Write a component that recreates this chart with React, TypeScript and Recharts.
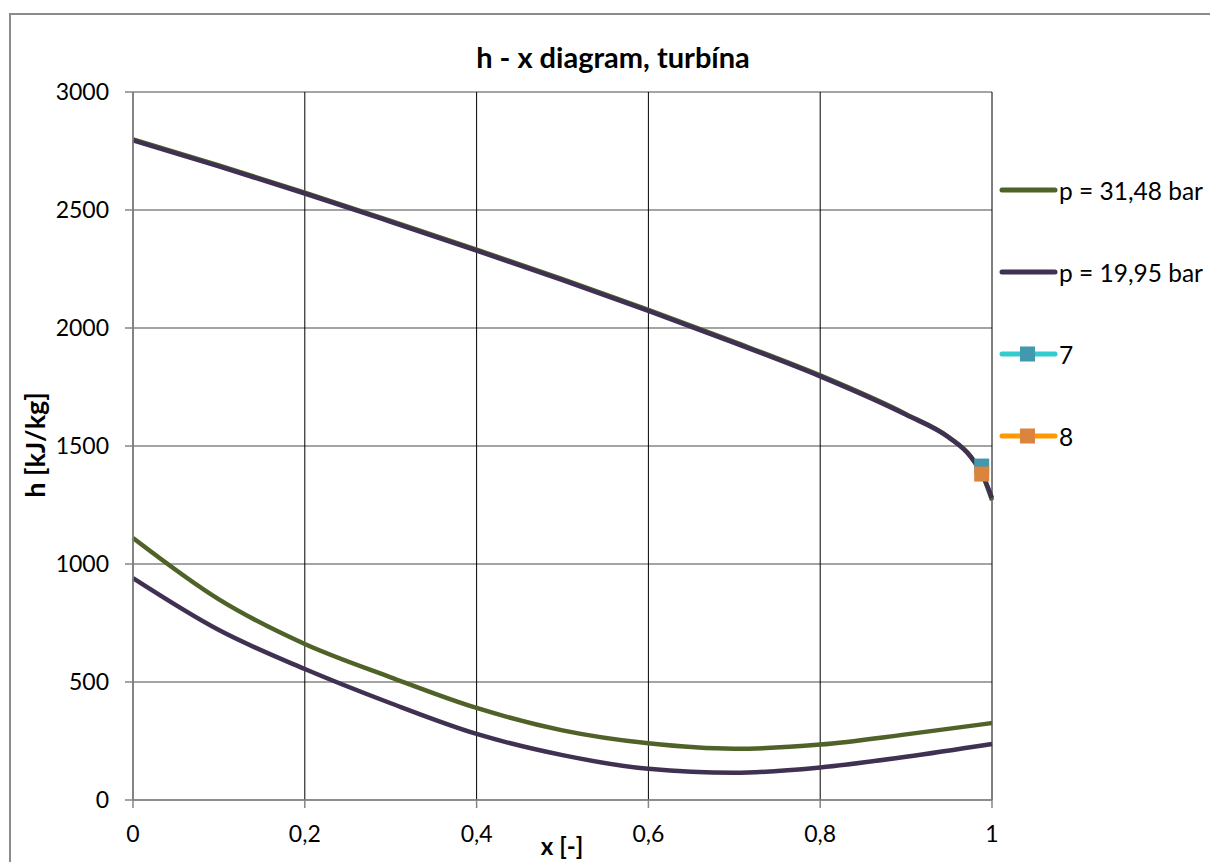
import React from "react";
import {
  LineChart,
  Line,
  XAxis,
  YAxis,
  CartesianGrid,
  Legend,
} from "recharts";

// saturation curves, x = dryness fraction, h in kJ/kg
const upperX = [0, 0.1, 0.2, 0.3, 0.4, 0.5, 0.6, 0.7, 0.8, 0.9, 0.95, 0.975, 0.99, 1];
const upperH31 = [2799, 2689, 2574, 2454, 2332, 2207, 2077, 1941, 1799, 1635, 1537, 1457, 1368, 1270];
const upperH19 = [2795, 2685, 2570, 2450, 2328, 2203, 2073, 1937, 1795, 1632, 1535, 1455, 1370, 1280];

const lowerX = [0, 0.1, 0.2, 0.3, 0.4, 0.5, 0.6, 0.7, 0.8, 0.9, 1];
const lowerH31 = [1110, 850, 661, 520, 390, 295, 240, 217, 235, 278, 326];
const lowerH19 = [940, 720, 555, 410, 280, 190, 132, 115, 138, 183, 237];

const point7X = [0.988];
const point7H = [1415];
const point8X = [0.988];
const point8H = [1381];

const xTicks = [0, 0.2, 0.4, 0.6, 0.8, 1];
const yTicks = [0, 500, 1000, 1500, 2000, 2500, 3000];

const seriesNames = ["p = 31,48 bar", "p = 19,95 bar", "7", "8"];
const lineColors = ["#4F6228", "#403152", "#33CCCC", "#FF9900"];
const markerFills = [null, null, "#4198AF", "#DB843D"];

const FONT = "Lato, 'Open Sans', sans-serif";

type Pt = { x: number; h: number | null };

function buildCurve(ux: number[], uh: number[], lx: number[], lh: number[]): Pt[] {
  return [
    ...ux.map((x, i) => ({ x, h: uh[i] })),
    { x: 1, h: null },
    ...lx.map((x, i) => ({ x, h: lh[i] })),
  ];
}

const curve31 = buildCurve(upperX, upperH31, lowerX, lowerH31);
const curve19 = buildCurve(upperX, upperH19, lowerX, lowerH19);
const data7: Pt[] = point7X.map((x, i) => ({ x, h: point7H[i] }));
const data8: Pt[] = point8X.map((x, i) => ({ x, h: point8H[i] }));

const squareDot = (fill: string) => (props: any) => {
  const { cx, cy, index } = props;
  if (cx == null || cy == null) return <g key={`e-${index}`} />;
  return <rect key={`sq-${fill}-${index}`} x={cx - 7.5} y={cy - 7.5} width={15} height={15} fill={fill} />;
};

function LegendBox() {
  return (
    <div style={{ fontFamily: FONT, fontSize: 24.5, color: "#000" }}>
      {seriesNames.map((name, i) => (
        <div key={name} style={{ height: 82, display: "flex", alignItems: "center" }}>
          <svg width={60} height={16} style={{ display: "block" }}>
            <line x1={3} y1={8} x2={56} y2={8} stroke={lineColors[i]} strokeWidth={5} strokeLinecap="round" />
            {markerFills[i] && <rect x={21} y={0.5} width={15} height={15} fill={markerFills[i] as string} />}
          </svg>
          <span style={{ whiteSpace: "nowrap" }}>{name}</span>
        </div>
      ))}
    </div>
  );
}

export default function App() {
  return (
    <div style={{ position: "absolute", left: 0, top: 0, width: 1210, height: 862, overflow: "hidden", background: "#fff" }}>
      <div
        style={{
          position: "absolute",
          left: 9,
          top: 13,
          width: 1400,
          height: 1000,
          borderLeft: "2px solid #8c8c8c",
          borderTop: "2px solid #8c8c8c",
        }}
      />
      <div
        style={{
          position: "absolute",
          left: 0,
          width: 1226,
          top: 40,
          textAlign: "center",
          fontFamily: FONT,
          fontWeight: 700,
          fontSize: 29,
          lineHeight: "34px",
        }}
      >
        h - x diagram, turbína
      </div>
      <div
        style={{
          position: "absolute",
          left: 35 - 100,
          top: 445 - 17,
          width: 200,
          textAlign: "center",
          transform: "rotate(-90deg)",
          fontFamily: FONT,
          fontWeight: 700,
          fontSize: 27,
          lineHeight: "34px",
        }}
      >
        h [kJ/kg]
      </div>
      <div
        style={{
          position: "absolute",
          left: 462,
          width: 200,
          top: 831,
          textAlign: "center",
          fontFamily: FONT,
          fontWeight: 700,
          fontSize: 24,
          lineHeight: "30px",
        }}
      >
        x [-]
      </div>
      <div style={{ position: "absolute", left: 0, top: 0 }}>
        <LineChart
          width={1210}
          height={862}
          margin={{ top: 92, right: 218, bottom: 32, left: 73 }}
        >
          <CartesianGrid horizontal vertical={false} stroke="#868686" strokeWidth={1.5} />
          <CartesianGrid horizontal={false} vertical stroke="#000" strokeWidth={1} />
          <XAxis
            dataKey="x"
            type="number"
            domain={[0, 1]}
            ticks={xTicks}
            allowDuplicatedCategory={false}
            height={30}
            stroke="#868686"
            strokeWidth={1.5}
            tickSize={8}
            tickMargin={18}
            tick={{ fill: "#000", fontSize: 23, fontFamily: FONT }}
            tickFormatter={(v: number) => String(v).replace(".", ",")}
          />
          <YAxis
            dataKey="h"
            type="number"
            domain={[0, 3000]}
            ticks={yTicks}
            width={60}
            stroke="#868686"
            strokeWidth={1.5}
            tickSize={8}
            tickMargin={16}
            tick={{ fill: "#000", fontSize: 23, fontFamily: FONT }}
          />
          <Legend
            layout="vertical"
            align="center"
            verticalAlign="middle"
            wrapperStyle={{ position: "absolute", left: 999, top: 149, width: 210 }}
            content={() => <LegendBox />}
          />
          <Line
            data={curve31}
            dataKey="h"
            name={seriesNames[0]}
            type="monotone"
            stroke={lineColors[0]}
            strokeWidth={4.5}
            dot={false}
            activeDot={false}
            isAnimationActive={false}
          />
          <Line
            data={curve19}
            dataKey="h"
            name={seriesNames[1]}
            type="monotone"
            stroke={lineColors[1]}
            strokeWidth={4.5}
            dot={false}
            activeDot={false}
            isAnimationActive={false}
          />
          <Line
            data={data7}
            dataKey="h"
            name={seriesNames[2]}
            stroke={lineColors[2]}
            strokeWidth={4.5}
            dot={squareDot(markerFills[2] as string)}
            activeDot={false}
            isAnimationActive={false}
          />
          <Line
            data={data8}
            dataKey="h"
            name={seriesNames[3]}
            stroke={lineColors[3]}
            strokeWidth={4.5}
            dot={squareDot(markerFills[3] as string)}
            activeDot={false}
            isAnimationActive={false}
          />
        </LineChart>
      </div>
    </div>
  );
}
